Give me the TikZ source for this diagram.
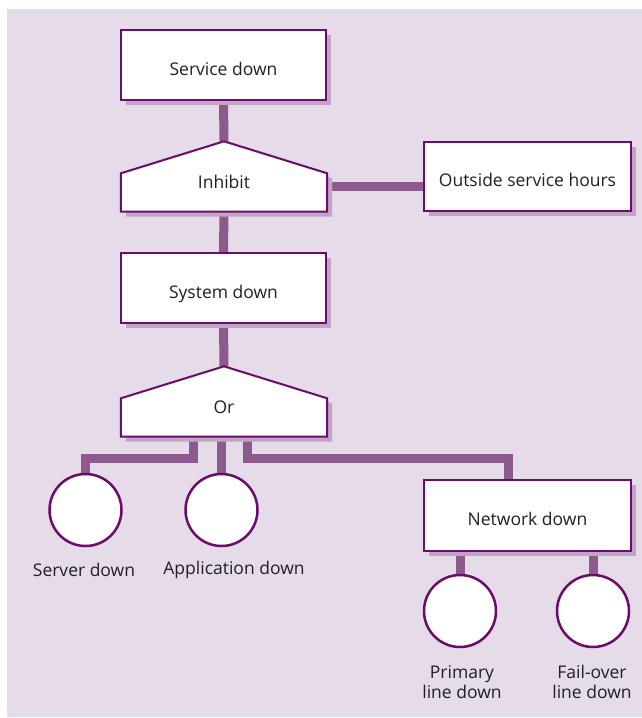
\documentclass[tikz,border=0pt]{standalone}
\usepackage{fontspec}
\setmainfont{Open Sans}
\usetikzlibrary{positioning,calc,shadows,backgrounds}
\definecolor{treeBg}{HTML}{E6DBE8}
\definecolor{treeEdge}{HTML}{6B0B6B}
\definecolor{treeLink}{HTML}{8C5A8C}
\definecolor{treeShade}{HTML}{C2A4C6}
\definecolor{treeText}{HTML}{231F20}
\tikzset{
  eventBox/.style={rectangle, draw=treeEdge, line width=2pt, fill=white,
    minimum width=205pt, minimum height=70pt, align=center,
    text height=20pt, text depth=0pt,
    font=\fontsize{17.5}{20}\selectfont, text=treeText,
    drop shadow={shadow xshift=5pt, shadow yshift=-5pt, fill=treeShade, opacity=1}},
  gateNode/.style={rectangle, minimum width=206pt, minimum height=70pt,
    text height=24pt, text depth=0pt, font=\fontsize{17.5}{20}\selectfont, text=treeText},
  gateShape/.style={draw=treeEdge, line width=2pt, fill=white, line join=miter},
  basicCircle/.style={circle, draw=treeEdge, line width=2.5pt, fill=white, minimum size=72pt},
  eventLabel/.style={align=center, font=\fontsize{17.5}{20}\selectfont, text=treeText},
  linkLine/.style={-, line width=9pt, treeLink},
}

\begin{document}
\begin{tikzpicture}[x=1pt, y=-1pt]
  \useasboundingbox (0,0) rectangle (642,718);
  \begin{scope}[on background layer]
    \fill[treeBg] (7,9) rectangle (642,717);
  \end{scope}

  \node[eventBox] (sd) at (223.5,65) {Service down};
  \node[gateNode] (inh) at (224,176.5) {Inhibit};
  \node[eventBox, minimum width=207pt, minimum height=69pt] (osh) at (527.5,176.5) {Outside service hours};
  \node[eventBox] (sys) at (223.5,288) {System down};
  \node[gateNode] (org) at (224,401.5) {Or};
  \node[basicCircle] (srv) at (85.5,510) {};
  \node[basicCircle] (app) at (221.5,510) {};
  \node[eventBox, minimum width=207pt, minimum height=71pt] (net) at (527.5,515.5) {Network down};
  \node[basicCircle] (pri) at (460,611) {};
  \node[basicCircle] (fov) at (593,611) {};

  \node[eventLabel] (srvL) at (84,570) {Server down};
  \node[eventLabel] (appL) at (234,570) {Application down};
  \node[eventLabel] (priL) at (462,682) {Primary\\line down};
  \node[eventLabel] (fovL) at (592,682) {Fail-over\\line down};

  \begin{scope}[on background layer]
    \draw[linkLine] (sd.south) -- (inh.north);
    \draw[linkLine] ([yshift=-10pt]inh.east) -- ([yshift=-10pt]osh.west);
    \draw[linkLine] (inh.south) -- (sys.north);
    \draw[linkLine] (sys.south) -- (org.north);
    \draw[linkLine] ([xshift=-31pt]org.south) -- ++(0,22) -| (srv.north);
    \draw[linkLine] (org.south -| app.north) -- (app.north);
    \draw[linkLine] ([xshift=23pt]org.south) -- ++(0,22) -| ([xshift=-19.5pt]net.north);
    \draw[linkLine] (net.south -| pri.north) -- (pri.north);
    \draw[linkLine] (net.south -| fov.north) -- (fov.north);
    \foreach \g in {inh,org}{
      \fill[treeShade] ($(\g.south west)+(5,5)$) -- ($(\g.north west)+(5,37)$)
        -- ($(\g.north)+(5,5)$) -- ($(\g.north east)+(5,37)$) -- ($(\g.south east)+(5,5)$) -- cycle;
      \draw[gateShape] (\g.south west) -- ($(\g.north west)+(0,32)$)
        -- (\g.north) -- ($(\g.north east)+(0,32)$) -- (\g.south east) -- cycle;
    }
  \end{scope}
\end{tikzpicture}
\end{document}
